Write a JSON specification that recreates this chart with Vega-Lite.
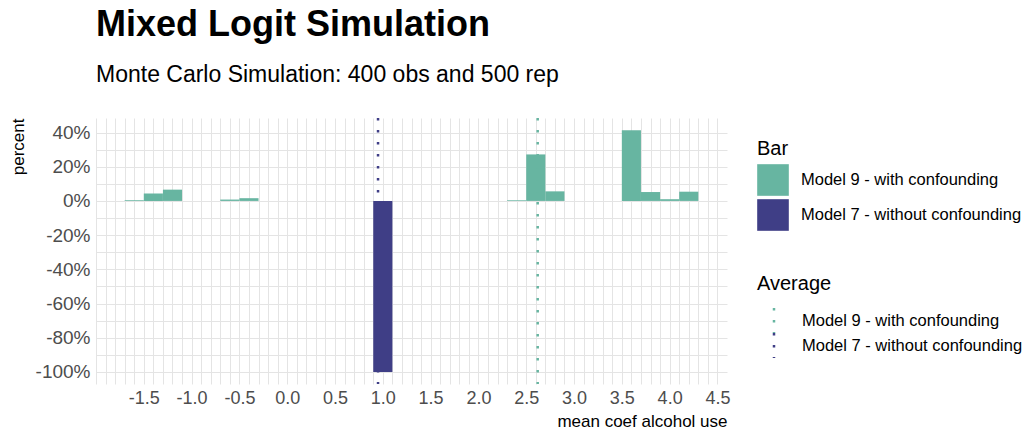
{
  "$schema": "https://vega.github.io/schema/vega-lite/v6.json",
  "autosize": {"type": "none"},
  "width": 631,
  "height": 266,
  "padding": {"left": 96, "top": 118, "right": 302, "bottom": 47},
  "background": "white",
  "config": {"view": {"stroke": null}, "font": "Liberation Sans"},
  "title": {
    "text": "Mixed Logit Simulation",
    "subtitle": "Monte Carlo Simulation: 400 obs and 500 rep",
    "anchor": "start",
    "frame": "group",
    "font": "Liberation Sans",
    "subtitleFont": "Liberation Sans",
    "fontSize": 36,
    "fontWeight": "bold",
    "color": "black",
    "subtitleFontSize": 23,
    "subtitleColor": "black",
    "subtitlePadding": 20,
    "offset": 29
  },
  "layer": [
    {
      "data": {
        "values": [
          {"x0": -1.7, "x1": -1.5, "pct": 0.4, "model": "Model 9 - with confounding"},
          {"x0": -1.5, "x1": -1.3, "pct": 4.4, "model": "Model 9 - with confounding"},
          {"x0": -1.3, "x1": -1.1, "pct": 6.6, "model": "Model 9 - with confounding"},
          {"x0": -0.7, "x1": -0.5, "pct": 0.8, "model": "Model 9 - with confounding"},
          {"x0": -0.5, "x1": -0.3, "pct": 1.6, "model": "Model 9 - with confounding"},
          {"x0": 2.3, "x1": 2.5, "pct": 0.4, "model": "Model 9 - with confounding"},
          {"x0": 2.5, "x1": 2.7, "pct": 27.2, "model": "Model 9 - with confounding"},
          {"x0": 2.7, "x1": 2.9, "pct": 5.6, "model": "Model 9 - with confounding"},
          {"x0": 3.5, "x1": 3.7, "pct": 41.4, "model": "Model 9 - with confounding"},
          {"x0": 3.7, "x1": 3.9, "pct": 5.2, "model": "Model 9 - with confounding"},
          {"x0": 3.9, "x1": 4.1, "pct": 1.0, "model": "Model 9 - with confounding"},
          {"x0": 4.1, "x1": 4.3, "pct": 5.4, "model": "Model 9 - with confounding"},
          {"x0": 0.9, "x1": 1.1, "pct": -100, "model": "Model 7 - without confounding"}
        ]
      },
      "mark": {"type": "bar"},
      "encoding": {
        "x": {
          "field": "x0",
          "type": "quantitative",
          "title": "mean coef alcohol use",
          "scale": {"domain": [-2.0, 4.6], "nice": false, "zero": false},
          "axis": {
            "values": [-2, -1.9, -1.8, -1.7, -1.6, -1.5, -1.4, -1.3, -1.2, -1.1, -1, -0.9, -0.8, -0.7, -0.6, -0.5, -0.4, -0.3, -0.2, -0.1, 0, 0.1, 0.2, 0.3, 0.4, 0.5, 0.6, 0.7, 0.8, 0.9, 1, 1.1, 1.2, 1.3, 1.4, 1.5, 1.6, 1.7, 1.8, 1.9, 2, 2.1, 2.2, 2.3, 2.4, 2.5, 2.6, 2.7, 2.8, 2.9, 3, 3.1, 3.2, 3.3, 3.4, 3.5, 3.6, 3.7, 3.8, 3.9, 4, 4.1, 4.2, 4.3, 4.4, 4.5],
            "tickCount": 200,
            "labelExpr": "(abs(datum.value*2 - round(datum.value*2)) < 0.000001 && datum.value > -1.9) ? ((datum.value < 0 ? '-' : '') + format(abs(datum.value), '.1f')) : ''",
            "labelOverlap": false,
            "labelFlush": false,
            "labelFontSize": 18,
            "labelColor": "#4d4d4d",
            "labelPadding": 5,
            "ticks": false,
            "tickSize": 0,
            "domain": false,
            "grid": true,
            "gridColor": "#e4e4e4",
            "gridWidth": 1,
            "titleFontSize": 17,
            "titleFontWeight": "normal",
            "titleColor": "black",
            "titleX": 631,
            "titleY": 37,
            "titleAlign": "right",
            "titleBaseline": "middle"
          }
        },
        "x2": {"field": "x1"},
        "y": {
          "field": "pct",
          "type": "quantitative",
          "title": "percent",
          "scale": {"domain": [-107.07, 48.5], "nice": false, "zero": false},
          "axis": {
            "values": [-100, -90, -80, -70, -60, -50, -40, -30, -20, -10, 0, 10, 20, 30, 40],
            "tickCount": 50,
            "labelExpr": "datum.value % 20 == 0 ? datum.value + '%' : ''",
            "labelOverlap": false,
            "labelFlush": false,
            "labelFontSize": 19,
            "labelColor": "#4d4d4d",
            "labelPadding": 6,
            "ticks": false,
            "tickSize": 0,
            "domain": false,
            "grid": true,
            "gridColor": "#e4e4e4",
            "gridWidth": 1,
            "titleFontSize": 17,
            "titleFontWeight": "normal",
            "titleColor": "black",
            "titleAngle": -90,
            "titleX": -78,
            "titleY": 0,
            "titleAlign": "right",
            "titleBaseline": "middle"
          }
        },
        "y2": {"datum": 0},
        "fill": {
          "field": "model",
          "type": "nominal",
          "scale": {
            "domain": ["Model 9 - with confounding", "Model 7 - without confounding"],
            "range": ["#67b5a1", "#3f3e86"]
          },
          "legend": {
            "title": "Bar",
            "orient": "none",
            "legendX": 661,
            "legendY": 21,
            "padding": 0,
            "symbolType": "square",
            "symbolSize": 1000,
            "symbolStrokeWidth": 0,
            "symbolOpacity": 1,
            "labelFontSize": 16.5,
            "labelColor": "black",
            "labelLimit": 400,
            "labelOffset": 12,
            "titleFontSize": 20,
            "titleFontWeight": "normal",
            "titleColor": "black",
            "titlePadding": 5,
            "rowPadding": 3
          }
        }
      }
    },
    {
      "data": {
        "values": [
          {"x0": 2.62, "avgmodel": "Average: Model 9 - with confounding"},
          {"x0": 0.95, "avgmodel": "Average: Model 7 - without confounding"}
        ]
      },
      "mark": {"type": "rule", "strokeDash": [2.5, 9.5], "strokeWidth": 2.5},
      "encoding": {
        "x": {"field": "x0", "type": "quantitative"},
        "stroke": {
          "field": "avgmodel",
          "type": "nominal",
          "scale": {
            "domain": ["Average: Model 9 - with confounding", "Average: Model 7 - without confounding"],
            "range": ["#67b5a1", "#3f3e86"]
          },
          "legend": {
            "title": "Average",
            "orient": "none",
            "legendX": 661,
            "legendY": 156,
            "padding": 0,
            "labelExpr": "replace(datum.label, 'Average: ', '')",
            "symbolType": "M0,-1L0,1",
            "symbolSize": 625,
            "symbolStrokeWidth": 2.5,
            "symbolDash": [2.5, 9.5],
            "symbolOffset": 3,
            "clipHeight": 25,
            "labelFontSize": 16.5,
            "labelColor": "black",
            "labelLimit": 400,
            "labelOffset": 14,
            "titleFontSize": 20,
            "titleFontWeight": "normal",
            "titleColor": "black",
            "titlePadding": 14,
            "rowPadding": 0
          }
        }
      }
    }
  ]
}
